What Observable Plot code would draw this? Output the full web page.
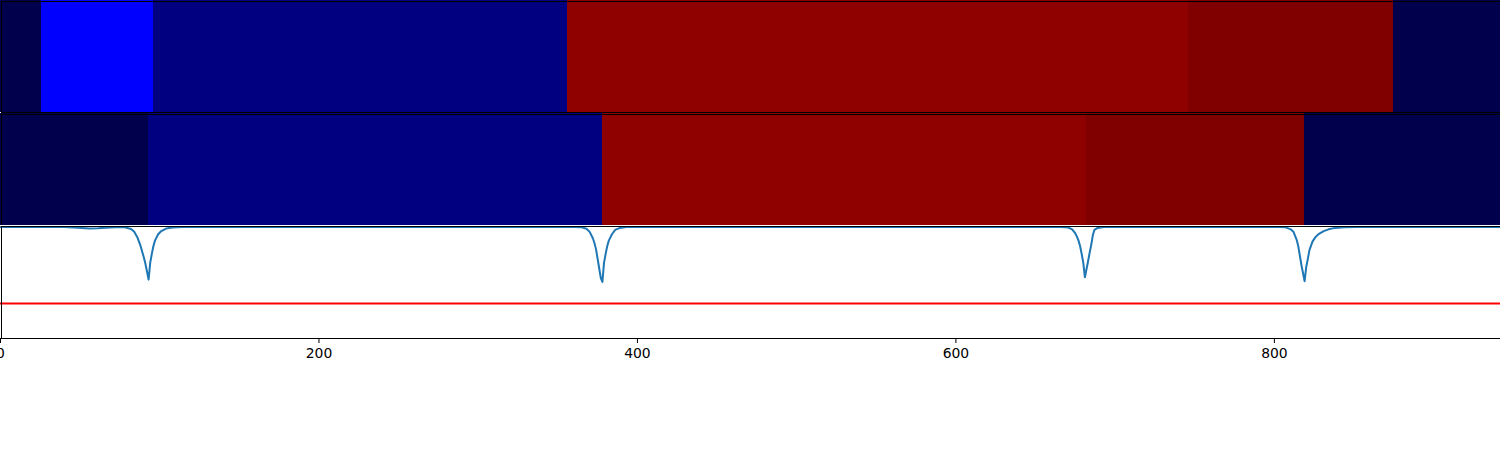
<!DOCTYPE html>
<html>
<head>
<meta charset="utf-8">
<script src="https://cdn.jsdelivr.net/npm/d3@7"></script>
<script src="https://cdn.jsdelivr.net/npm/@observablehq/plot@0.6"></script>
<style>
  html, body { margin: 0; padding: 0; background: white; }
  #chart { width: 1500px; height: 450px; display: flex; flex-direction: column; overflow: hidden; }
  #chart svg { display: block; overflow: visible; }
</style>
</head>
<body>
<div id="chart"></div>
<script>
// ---- data ----
const xMax = 942;

// segment boundaries and state values (seismic colour scale, 0..1)
const row1Bounds = [0, 26, 96, 356, 746, 875, 942];
const row1Values = [0, 0.25, 0.072, 0.97, 1.0, 0];

const row2Bounds = [0, 93, 378, 682, 819, 942];
const row2Values = [0, 0.072, 0.97, 1.0, 0];

// similarity curve
const lineX = [
  0, 40, 46, 51, 56, 61, 66, 72, 78, 82, 84, 86, 88, 89, 90, 91, 92, 93, 94, 95, 96, 97, 99, 101, 104, 108, 114,
  360, 365, 368, 370, 372, 373, 374, 375, 376, 377, 378, 379, 380, 381, 382, 384, 386, 389, 393,
  665, 669, 671, 673, 675, 676, 677, 678, 679, 680, 681, 682, 683, 684, 685, 686, 687, 689, 693,
  803, 807, 810, 812, 814, 815, 816, 817, 818, 819, 820, 821, 822, 824, 826, 828, 831, 834, 838, 844, 852,
  942
];
const lineY = [
  1.0, 1.0, 0.996, 0.988, 0.982, 0.984, 0.992, 0.999, 0.997, 0.975, 0.94, 0.87, 0.76, 0.69, 0.62, 0.54, 0.44, 0.34, 0.55, 0.66, 0.76, 0.83, 0.91, 0.95, 0.982, 0.995, 1.0,
  1.0, 0.997, 0.98, 0.94, 0.86, 0.8, 0.72, 0.6, 0.48, 0.36, 0.31, 0.55, 0.66, 0.76, 0.83, 0.91, 0.965, 0.99, 1.0,
  1.0, 0.997, 0.99, 0.97, 0.92, 0.88, 0.83, 0.76, 0.66, 0.55, 0.37, 0.47, 0.57, 0.68, 0.78, 0.9, 0.965, 0.99, 1.0,
  1.0, 0.997, 0.975, 0.94, 0.84, 0.76, 0.64, 0.52, 0.42, 0.32, 0.5, 0.6, 0.71, 0.82, 0.88, 0.915, 0.95, 0.972, 0.99, 0.998, 1.0,
  1.0
];
const threshold = 0.04;
const xTicks = [0, 200, 400, 600, 800];

// ---- build ----
const seismic = {
  type: "linear",
  domain: [0, 0.25, 0.5, 0.75, 1],
  range: ["#00004d", "#0000ff", "#ffffff", "#ff0000", "#800000"]
};

function segs(bounds, values) {
  return values.map((v, i) => ({x1: bounds[i], x2: bounds[i + 1], v}));
}

const font = "DejaVu Sans, sans-serif";

function heat(bounds, values, h, mb) {
  return Plot.plot({
    width: 1500, height: h,
    marginTop: 0, marginLeft: 0, marginRight: 0, marginBottom: mb,
    style: {fontFamily: font, background: "white"},
    x: {domain: [0, xMax], axis: null},
    color: seismic,
    marks: [
      Plot.rect(segs(bounds, values), {x1: "x1", x2: "x2", fill: "v", shapeRendering: "crispEdges"}),
      Plot.frame({stroke: "black", strokeWidth: 1, inset: 0.5, shapeRendering: "crispEdges"})
    ]
  });
}

const chart = document.getElementById("chart");
chart.append(heat(row1Bounds, row1Values, 113, 1));
chart.append(heat(row2Bounds, row2Values, 112, 0));

const pts = lineX.map((x, i) => ({x, y: lineY[i]}));

chart.append(Plot.plot({
  width: 1500, height: 225,
  marginTop: 0, marginLeft: 0, marginRight: 0, marginBottom: 112,
  style: {fontFamily: font, fontSize: "13.9px", background: "white", color: "black"},
  x: {domain: [0, xMax], axis: null},
  y: {domain: [-0.4, 1.02], axis: null},
  marks: [
    Plot.ruleY([threshold], {stroke: "#ff0000", strokeWidth: 2}),
    Plot.line(pts, {x: "x", y: "y", stroke: "#1f77b4", strokeWidth: 2}),
    Plot.frame({stroke: "black", strokeWidth: 1, inset: 0.5, shapeRendering: "crispEdges"}),
    Plot.axisX({ticks: xTicks, tickSize: 5, tickPadding: 5, tickFormat: d => String(d), fontSize: 13.9, label: null, stroke: "black"})
  ]
}));
</script>
</body>
</html>
